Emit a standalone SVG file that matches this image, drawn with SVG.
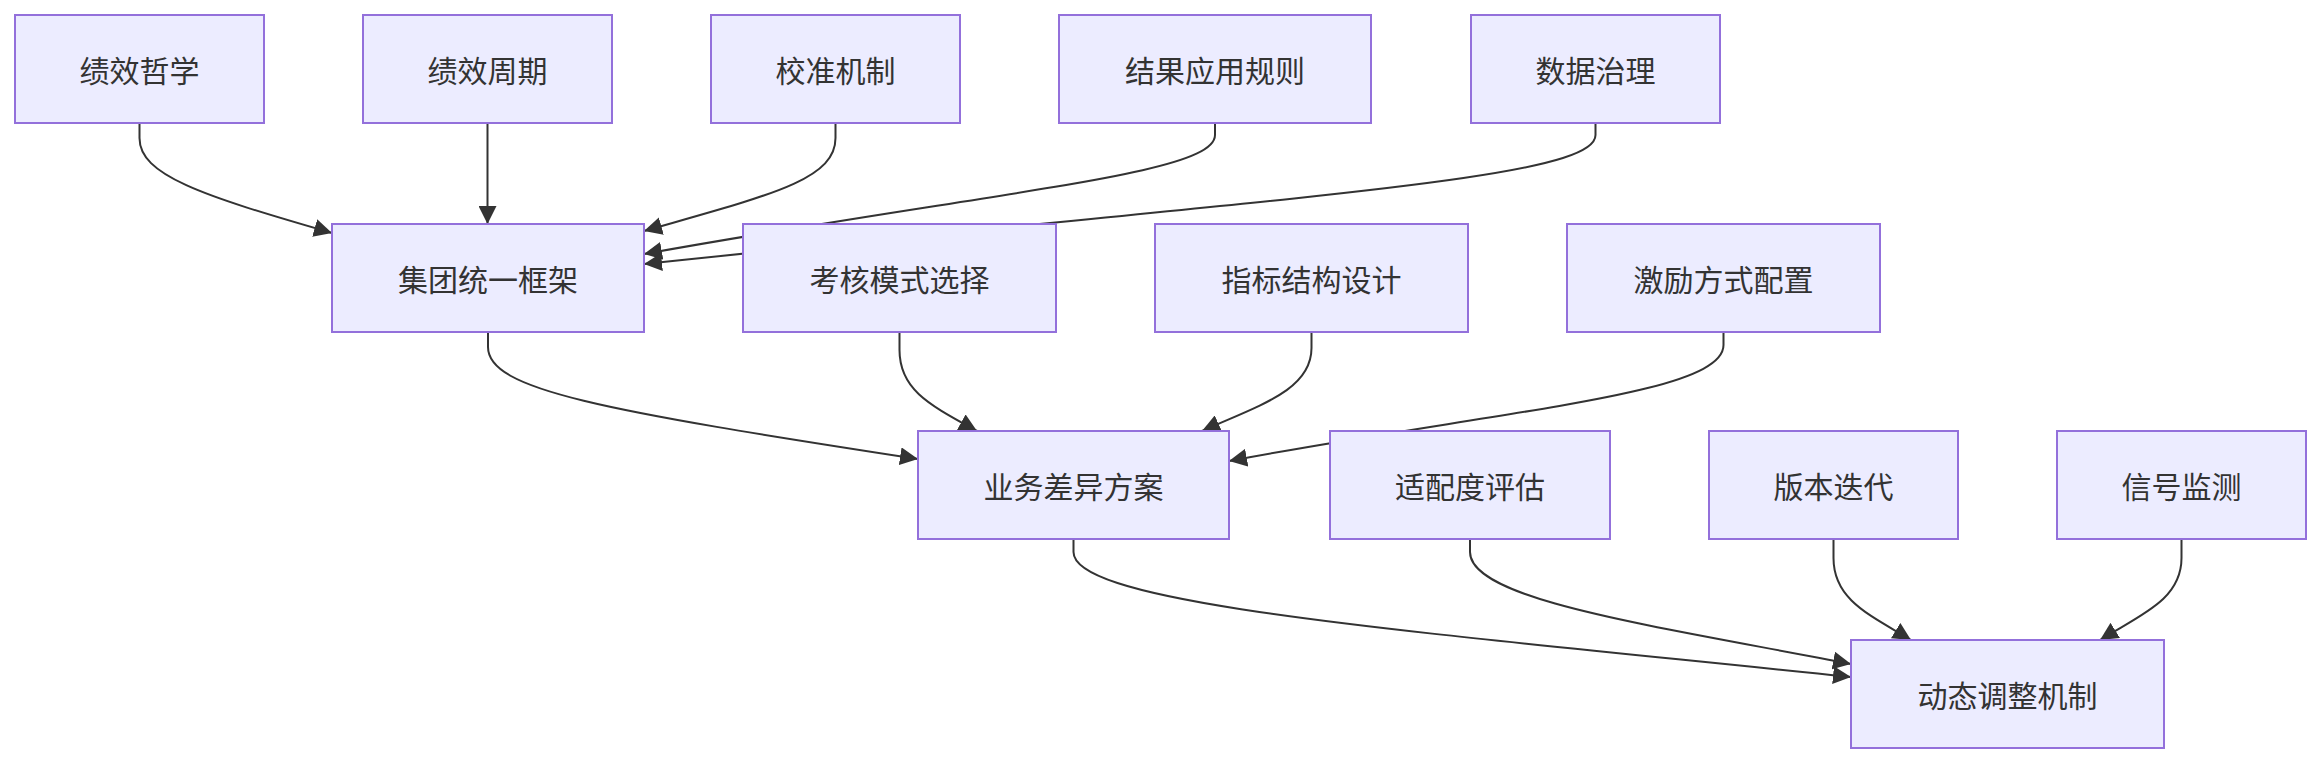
<svg xmlns="http://www.w3.org/2000/svg" width="2322" height="764" viewBox="0 0 2322 764">
<style>
.n rect{fill:#ECECFF;stroke:#9370DB;stroke-width:2}
.n text{font-family:"Noto Sans CJK SC","Liberation Sans",sans-serif;font-size:30px;fill:#333;text-anchor:middle;dominant-baseline:central}
.e path{fill:none;stroke:#333;stroke-width:2;marker-end:url(#a)}
</style>
<defs><marker id="a" viewBox="0 0 10 10" refX="10" refY="5" markerWidth="18" markerHeight="18" markerUnits="userSpaceOnUse" orient="auto"><path d="M0,0 L10,5 L0,10 z" fill="#333"/></marker></defs>
<rect width="2322" height="764" fill="#fff"/>
<g class="e">
<path d="M139.5,123 L139.5,138 C139.5,175 200,195 332,233"/>
<path d="M487.5,123 L487.5,224"/>
<path d="M835.5,123 L835.5,138 C835.5,180 770,195 644,231"/>
<path d="M1215,123 L1215,135 C1215,175 1000,190 644,254"/>
<path d="M1595.5,123 L1595.5,135 C1595.5,180 1300,195 644,264"/>
<path d="M488,332 L488,347 C488,390 600,410 918,459"/>
<path d="M899.5,332 L899.5,350 C899.5,390 930,405 977,431"/>
<path d="M1311.5,332 L1311.5,348 C1311.5,390 1260,405 1202,431"/>
<path d="M1723.5,332 L1723.5,345 C1723.5,395 1500,410 1229,461"/>
<path d="M1073.5,539 L1073.5,552 C1073.5,605 1400,630 1851,677"/>
<path d="M1470,539 L1470,552 C1470,600 1650,625 1851,664"/>
<path d="M1833.5,539 L1833.5,558 C1833.5,600 1870,615 1911,640"/>
<path d="M2181.5,539 L2181.5,558 C2181.5,600 2140,615 2100,640"/>
</g>
<g id="n1" class="n"><rect x="15" y="15" width="249" height="108"/><text x="139.5" y="69">绩效哲学</text></g>
<g id="n2" class="n"><rect x="363" y="15" width="249" height="108"/><text x="487.5" y="69">绩效周期</text></g>
<g id="n3" class="n"><rect x="711" y="15" width="249" height="108"/><text x="835.5" y="69">校准机制</text></g>
<g id="n4" class="n"><rect x="1059" y="15" width="312" height="108"/><text x="1215" y="69">结果应用规则</text></g>
<g id="n5" class="n"><rect x="1471" y="15" width="249" height="108"/><text x="1595.5" y="69">数据治理</text></g>
<g id="n6" class="n"><rect x="332" y="224" width="312" height="108"/><text x="488" y="278">集团统一框架</text></g>
<g id="n7" class="n"><rect x="743" y="224" width="313" height="108"/><text x="899.5" y="278">考核模式选择</text></g>
<g id="n8" class="n"><rect x="1155" y="224" width="313" height="108"/><text x="1311.5" y="278">指标结构设计</text></g>
<g id="n9" class="n"><rect x="1567" y="224" width="313" height="108"/><text x="1723.5" y="278">激励方式配置</text></g>
<g id="n10" class="n"><rect x="918" y="431" width="311" height="108"/><text x="1073.5" y="485">业务差异方案</text></g>
<g id="n11" class="n"><rect x="1330" y="431" width="280" height="108"/><text x="1470" y="485">适配度评估</text></g>
<g id="n12" class="n"><rect x="1709" y="431" width="249" height="108"/><text x="1833.5" y="485">版本迭代</text></g>
<g id="n13" class="n"><rect x="2057" y="431" width="249" height="108"/><text x="2181.5" y="485">信号监测</text></g>
<g id="n14" class="n"><rect x="1851" y="640" width="313" height="108"/><text x="2007.5" y="694">动态调整机制</text></g>
</svg>
